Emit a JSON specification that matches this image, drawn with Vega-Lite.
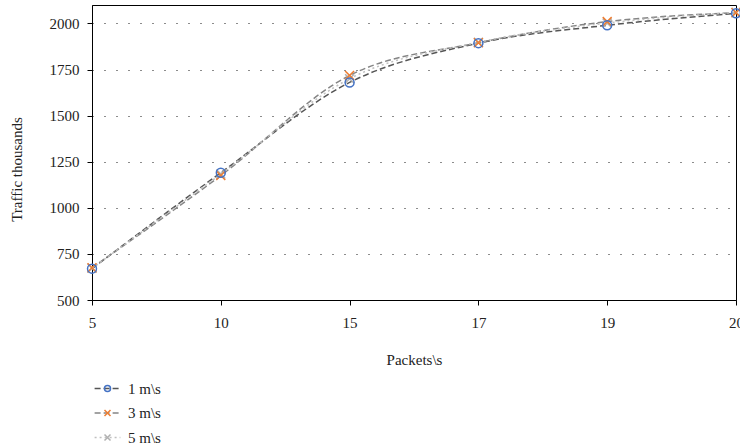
{
  "$schema": "https://vega.github.io/schema/vega-lite/v6.json",
  "width": 644,
  "height": 295,
  "autosize": {"type": "none"},
  "padding": {"left": 92, "top": 5, "right": 4, "bottom": 146},
  "background": "white",
  "config": {
    "font": "Liberation Serif",
    "view": {"stroke": "black", "strokeWidth": 1},
    "axis": {
      "domainColor": "black",
      "tickColor": "black",
      "tickSize": 5,
      "labelColor": "#222222",
      "titleColor": "#222222",
      "labelFont": "Liberation Serif",
      "titleFont": "Liberation Serif",
      "labelFontSize": 15,
      "titleFontSize": 15,
      "titleFontWeight": "normal",
      "gridColor": "black",
      "gridDash": [1, 11],
      "gridWidth": 1,
      "gridOpacity": 0.9
    },
    "legend": {
      "orient": "none",
      "direction": "vertical",
      "title": null,
      "padding": 0,
      "labelFont": "Liberation Serif",
      "labelFontSize": 15,
      "labelColor": "#222222",
      "rowPadding": 8.5
    }
  },
  "data": {
    "values": [
      {"packets": 5, "series": "1 m\\s", "traffic": 670},
      {"packets": 10, "series": "1 m\\s", "traffic": 1190},
      {"packets": 15, "series": "1 m\\s", "traffic": 1680},
      {"packets": 17, "series": "1 m\\s", "traffic": 1893},
      {"packets": 19, "series": "1 m\\s", "traffic": 1990},
      {"packets": 20, "series": "1 m\\s", "traffic": 2055},
      {"packets": 5, "series": "3 m\\s", "traffic": 675},
      {"packets": 10, "series": "3 m\\s", "traffic": 1175},
      {"packets": 15, "series": "3 m\\s", "traffic": 1718},
      {"packets": 17, "series": "3 m\\s", "traffic": 1895},
      {"packets": 19, "series": "3 m\\s", "traffic": 2010},
      {"packets": 20, "series": "3 m\\s", "traffic": 2058},
      {"packets": 5, "series": "5 m\\s", "traffic": 672},
      {"packets": 10, "series": "5 m\\s", "traffic": 1183},
      {"packets": 15, "series": "5 m\\s", "traffic": 1700},
      {"packets": 17, "series": "5 m\\s", "traffic": 1898},
      {"packets": 19, "series": "5 m\\s", "traffic": 2002},
      {"packets": 20, "series": "5 m\\s", "traffic": 2060}
    ]
  },
  "encoding": {
    "x": {
      "field": "packets",
      "type": "ordinal",
      "scale": {"type": "point", "padding": 0},
      "axis": {"labelAngle": 0, "labelPadding": 10, "title": "Packets\\s", "titlePadding": 22}
    },
    "y": {
      "field": "traffic",
      "type": "quantitative",
      "scale": {"domain": [500, 2100], "nice": false, "zero": false},
      "axis": {"values": [500, 750, 1000, 1250, 1500, 1750, 2000], "format": "d", "labelPadding": 8, "title": "Traffic thousands", "titlePadding": 25, "titleY": 164}
    }
  },
  "layer": [
    {
      "mark": {"type": "line", "interpolate": "monotone", "strokeWidth": 1.5},
      "encoding": {
        "stroke": {
          "field": "series",
          "type": "nominal",
          "scale": {"range": ["#555555", "#858585", "#c0c0c0"]},
          "legend": {"legendX": 8, "legendY": 376, "symbolType": "M-4.3,0L4.3,0", "symbolSize": 36, "symbolStrokeWidth": 1.5, "labelOpacity": 0, "labelOffset": 13}
        },
        "strokeDash": {
          "field": "series",
          "type": "nominal",
          "scale": {"range": [[6, 3], [6, 3], [2, 3]]},
          "legend": {"legendX": 8, "legendY": 376, "symbolType": "M-4.3,0L4.3,0", "symbolSize": 36, "symbolStrokeWidth": 1.5, "labelOpacity": 0, "labelOffset": 13}
        }
      }
    },
    {
      "mark": {"type": "point", "filled": false, "strokeWidth": 1.5, "size": 80, "opacity": 1},
      "encoding": {
        "color": {
          "field": "series",
          "type": "nominal",
          "scale": {"range": ["#4472C4", "#ED7D31", "#B0B0B0"]},
          "legend": {"legendX": 8, "legendY": 376, "symbolSize": 36, "symbolStrokeWidth": 1.5, "labelOffset": 13, "symbolFillColor": "white"}
        },
        "shape": {
          "field": "series",
          "type": "nominal",
          "scale": {"range": ["circle", "M-1,-1L1,1M-1,1L1,-1", "M-1,-1L1,1M-1,1L1,-1"]},
          "legend": {"legendX": 8, "legendY": 376, "symbolSize": 36, "symbolStrokeWidth": 1.5, "labelOffset": 13, "symbolFillColor": "white"}
        },
        "order": {"field": "series", "sort": "descending"}
      }
    }
  ]
}
